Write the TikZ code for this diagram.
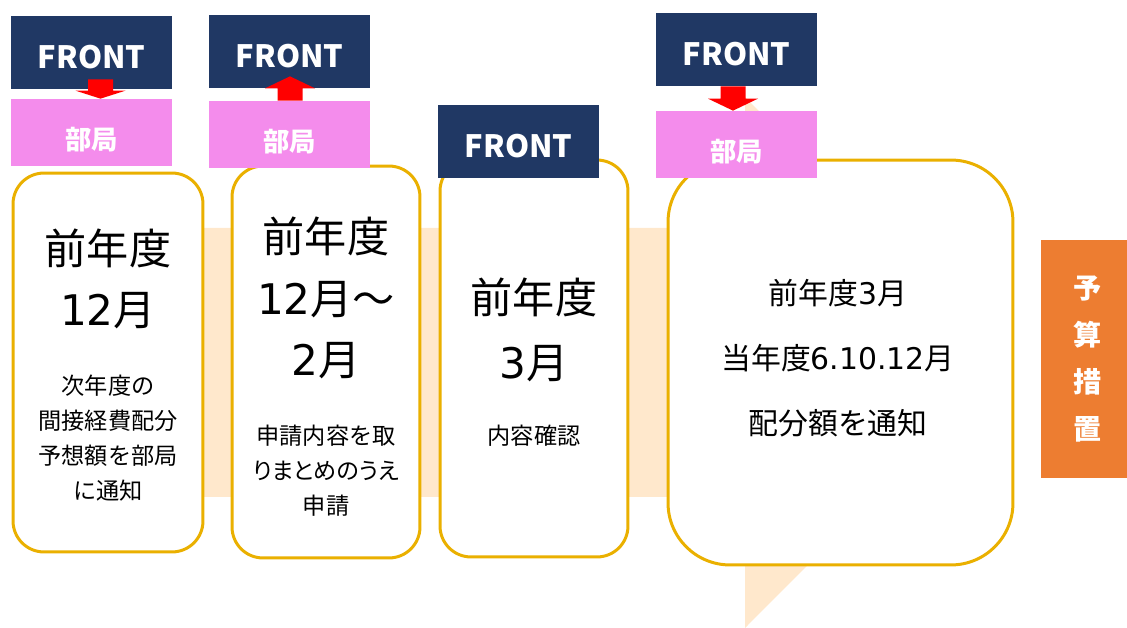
\documentclass[tikz,border=0pt]{standalone}
\usepackage{fontspec}
\setmainfont{Noto Sans CJK JP}
\newfontfamily\suuji{DejaVu Sans}
\usepackage{xcolor}
\usepackage{tikz}
\usetikzlibrary{calc}
\definecolor{frontblue}{HTML}{203864}
\definecolor{bukyokupink}{HTML}{F48CEC}
\definecolor{peach}{HTML}{FFE8CC}
\definecolor{waku}{HTML}{EAB000}
\definecolor{yosanorange}{HTML}{ED7D31}

\begin{document}
\begin{tikzpicture}[x=0.02cm, y=-0.02cm,
  front/.style={fill=frontblue, text=white, inner sep=0pt, minimum width=3.22cm, minimum height=1.46cm,
    font=\fontsize{17.5}{17.5}\selectfont\bfseries, text height=0.65cm, text depth=0pt},
  bukyoku/.style={fill=bukyokupink, text=white, inner sep=0pt, minimum width=3.22cm, minimum height=1.34cm,
    font=\fontsize{15}{15}\selectfont\bfseries, text height=0.70cm, text depth=0pt},
  waku/.style={draw=waku, line width=1.7pt, fill=white, inner sep=0pt},
  big/.style={font=\fontsize{24}{35}\selectfont, inner sep=0pt, align=center},
  mid/.style={font=\fontsize{17}{37}\selectfont, inner sep=0pt, align=center},
  small/.style={font=\fontsize{13.2}{19.9}\selectfont, inner sep=0pt, align=center},
  yaji/.style={fill=red}]
  \useasboundingbox (0,0) rectangle (1127,628);

  % background arrow
  \fill[peach] (100,228) -- (745,228) -- (745,97) -- (1010,362.5) -- (745,628) -- (745,497) -- (100,497) -- cycle;

  % steps
  \node[waku, rounded corners=0.62cm, minimum width=3.80cm, minimum height=7.58cm] (k1) at (108,362.5) {};
  \node[waku, rounded corners=0.62cm, minimum width=3.76cm, minimum height=7.84cm] (k2) at (326,362) {};
  \node[waku, rounded corners=0.62cm, minimum width=3.76cm, minimum height=7.94cm] (k3) at (534,358.5) {};
  \node[waku, rounded corners=1.24cm, minimum width=6.90cm, minimum height=8.10cm] (k4) at (840.5,362.5) {};

  \node[big] (k1big) at (108,279) {前年度\\{\suuji 12}月};
  \node[small] (k1small) at (108,438.5) {次年度の\\間接経費配分\\予想額を部局\\に通知};
  \node[big] (k2big) at (326,298) {前年度\\{\suuji 12}月～\\{\suuji 2}月};
  \node[small] (k2small) at (326,471) {申請内容を取\\{\addfontfeatures{RawFeature=+palt}りまとめのうえ}\\申請};
  \node[big, font=\fontsize{24}{37}\selectfont] (k3big) at (534,329.5) {前年度\\{\suuji 3}月};
  \node[small] (k3small) at (534,436) {内容確認};
  \node[mid] (k4txt) at (838,358) {前年度{\suuji 3}月\\当年度{\suuji 6.10.12}月\\配分額を通知};

  % FRONT / bukyoku
  \node[front] (f1) at (91.5,52.5) {FRONT};
  \node[bukyoku] (b1) at (91.5,132.5) {部局};
  \node[front] (f2) at (289.5,51.5) {FRONT};
  \node[bukyoku] (b2) at (289.5,134.5) {部局};
  \node[front] (f3) at (518.5,141.5) {FRONT};
  \node[front] (f4) at (736.5,49.5) {FRONT};
  \node[bukyoku] (b4) at (736.5,144.5) {部局};

  % red arrows
  \fill[yaji] ($(f1.south)+(-3.5,-10)$) -- ($(f1.south)+(21.5,-10)$) -- ($(b1.north)+(21.5,-8)$) -- ($(b1.north)+(34,-8)$)
    -- ($(b1.north)+(9,0)$) -- ($(b1.north)+(-16,-8)$) -- ($(b1.north)+(-3.5,-8)$) -- cycle;
  \fill[yaji] ($(b2.north)+(-12,0)$) -- ($(b2.north)+(13,0)$) -- ($(f2.south)+(13,0)$) -- ($(f2.south)+(25.5,0)$)
    -- ($(f2.south)+(0.5,-12)$) -- ($(f2.south)+(-24.5,0)$) -- ($(f2.south)+(-12,0)$) -- cycle;
  \fill[yaji] ($(f4.south)+(-16,0)$) -- ($(f4.south)+(9,0)$) -- ($(b4.north)+(9,-12)$) -- ($(b4.north)+(21.5,-12)$)
    -- ($(b4.north)+(-3.5,0)$) -- ($(b4.north)+(-28.5,-12)$) -- ($(b4.north)+(-16,-12)$) -- cycle;

  % budget
  \node[fill=yosanorange, text=white, inner sep=0pt, minimum width=1.88cm, minimum height=4.76cm, align=center,
    font=\fontsize{16}{26.7}\selectfont\bfseries] (yosan) at (1088,359) {予\\算\\措\\置};
\end{tikzpicture}
\end{document}
